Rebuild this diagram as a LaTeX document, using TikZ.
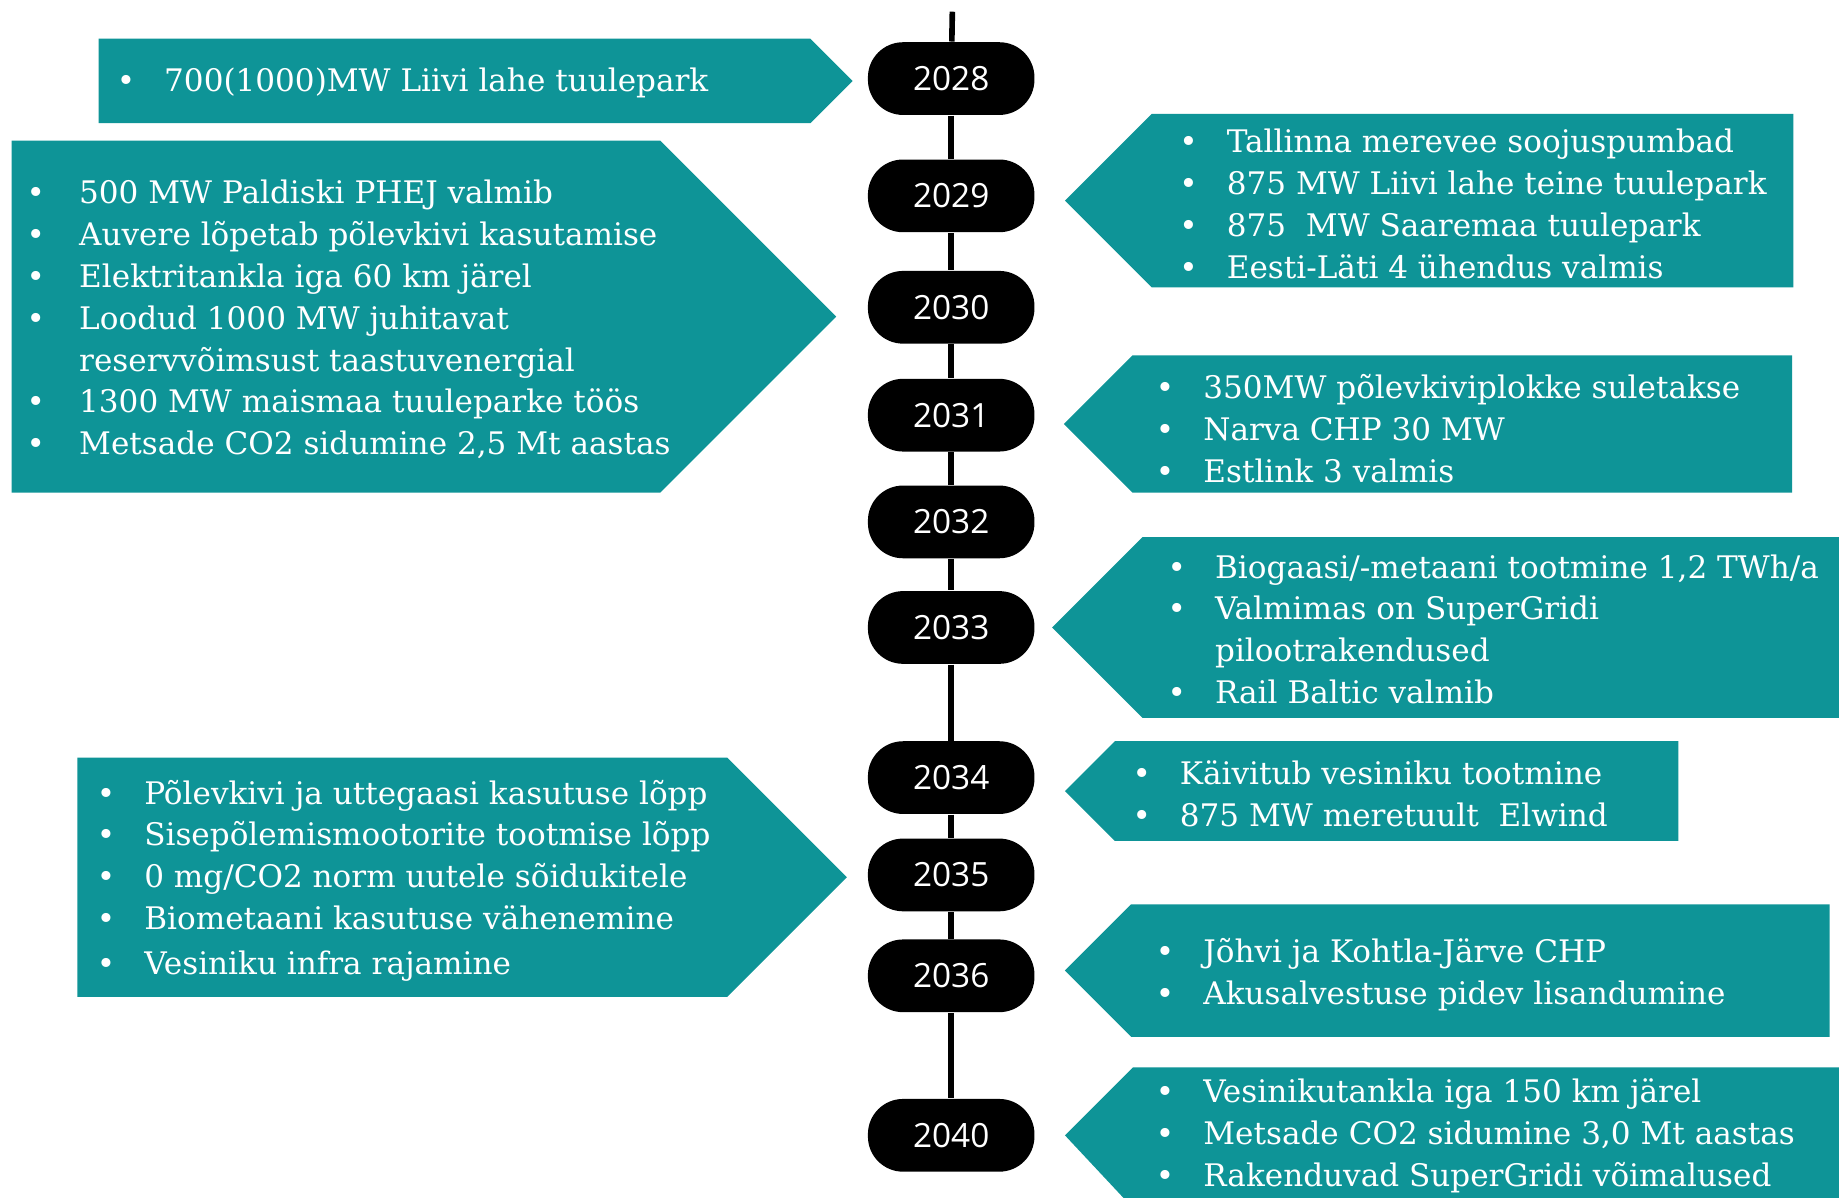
\documentclass[tikz,border=0pt]{standalone}
\usepackage{fontspec}
\setmainfont{DejaVu Serif}
\newfontfamily\yearfont{Open Sans}
\definecolor{teal1}{RGB}{14,148,151}
\newcommand{\bl}[2][13.5pt]{\makebox[#1][l]{\textbullet}#2}
\newcommand{\ct}[2][13.5pt]{\hspace*{#1}#2}
\begin{document}
\begin{tikzpicture}[x=0.011728cm,y=-0.011728cm,
  year/.style={fill=black,text=white,rounded corners=10pt,minimum width=47.4pt,minimum height=20.7pt,inner sep=0pt,font=\yearfont\fontsize{9.5}{11}\selectfont},
  info/.style={text=white,align=left,inner sep=0pt,anchor=west,font=\fontsize{8.85}{11.9}\selectfont},
  band/.style={fill=teal1},
  spine/.style={draw=black,line width=1.6pt}]
\useasboundingbox[fill=white] (0,0) rectangle (1568,1021);

% left bands
\fill[band] (84,33) -- (691,33) -- (727,69) -- (691,105) -- (84,105) -- cycle;
\fill[band] (10,120) -- (563,120) -- (713,270) -- (563,420) -- (10,420) -- cycle;
\fill[band] (66,646) -- (620,646) -- (722,748) -- (620,850) -- (66,850) -- cycle;
% right bands
\fill[band] (908,171) -- (982,97) -- (1529,97) -- (1529,245) -- (982,245) -- cycle;
\fill[band] (907,361.5) -- (965.5,303) -- (1528,303) -- (1528,420) -- (965.5,420) -- cycle;
\fill[band] (897,535) -- (974,458) -- (1580,458) -- (1580,612) -- (974,612) -- cycle;
\fill[band] (908,674.5) -- (950.5,632) -- (1431,632) -- (1431,717) -- (950.5,717) -- cycle;
\fill[band] (908,827.5) -- (964.5,771) -- (1560,771) -- (1560,884) -- (964.5,884) -- cycle;
\fill[band] (908,968) -- (966,910) -- (1580,910) -- (1580,1030) -- (966,1030) -- cycle;

% timeline
\coordinate (top) at (812,10);
\node[year] (y2028) at (811,67) {2028};
\node[year] (y2029) at (811,167) {2029};
\node[year] (y2030) at (811,262) {2030};
\node[year] (y2031) at (811,354) {2031};
\node[year] (y2032) at (811,445) {2032};
\node[year] (y2033) at (811,535) {2033};
\node[year] (y2034) at (811,663) {2034};
\node[year] (y2035) at (811,746) {2035};
\node[year] (y2036) at (811,832) {2036};
\node[year] (y2040) at (811,968) {2040};
\draw[spine] (top) -- (y2028);
\draw[spine] (y2028) -- (y2029);
\draw[spine] (y2029) -- (y2030);
\draw[spine] (y2030) -- (y2031);
\draw[spine] (y2031) -- (y2032);
\draw[spine] (y2032) -- (y2033);
\draw[spine] (y2033) -- (y2034);
\draw[spine] (y2034) -- (y2035);
\draw[spine] (y2035) -- (y2036);
\draw[spine] (y2036) -- (y2040);

% texts
\node[info] (tA) at (99,71) {\bl{700(1000)MW Liivi lahe tuulepark}};
\node[info] (tB) at (22,272.5) {\bl[15pt]{500 MW Paldiski PHEJ valmib}\\
\bl[15pt]{Auvere lõpetab põlevkivi kasutamise}\\
\bl[15pt]{Elektritankla iga 60 km järel}\\
\bl[15pt]{Loodud 1000 MW juhitavat}\\
\ct[15pt]{reservvõimsust taastuvenergial}\\
\bl[15pt]{1300 MW maismaa tuuleparke töös}\\
\bl[15pt]{Metsade CO2 sidumine 2,5 Mt aastas}};
\node[info] (tC) at (82,751) {\bl{Põlevkivi ja uttegaasi kasutuse lõpp}\\
\bl{Sisepõlemismootorite tootmise lõpp}\\
\bl{0 mg/CO2 norm uutele sõidukitele}\\
\bl{Biometaani kasutuse vähenemine}\\[1pt]
\bl{Vesiniku infra rajamine}};
\node[info] (tD) at (1005,174) {\bl{Tallinna merevee soojuspumbad}\\
\bl{875 MW Liivi lahe teine tuulepark}\\
\bl{875\ \ MW Saaremaa tuulepark}\\
\bl{Eesti-Läti 4 ühendus valmis}};
\node[info] (tE) at (985,365.5) {\bl{350MW põlevkiviplokke suletakse}\\
\bl{Narva CHP 30 MW}\\
\bl{Estlink 3 valmis}};
\node[info] (tF) at (995,536.5) {\bl{Biogaasi/-metaani tootmine 1,2 TWh/a}\\
\bl{Valmimas on SuperGridi}\\
\ct{pilootrakendused}\\
\bl{Rail Baltic valmib}};
\node[info] (tG) at (965,677) {\bl{Käivitub vesiniku tootmine}\\
\bl{875 MW meretuult\ \ Elwind}};
\node[info] (tH) at (985,831) {\bl{Jõhvi ja Kohtla-Järve CHP}\\
\bl{Akusalvestuse pidev lisandumine}};
\node[info] (tI) at (985,968.5) {\bl{Vesinikutankla iga 150 km järel}\\
\bl{Metsade CO2 sidumine 3,0 Mt aastas}\\
\bl{Rakenduvad SuperGridi võimalused}};
\end{tikzpicture}
\end{document}
